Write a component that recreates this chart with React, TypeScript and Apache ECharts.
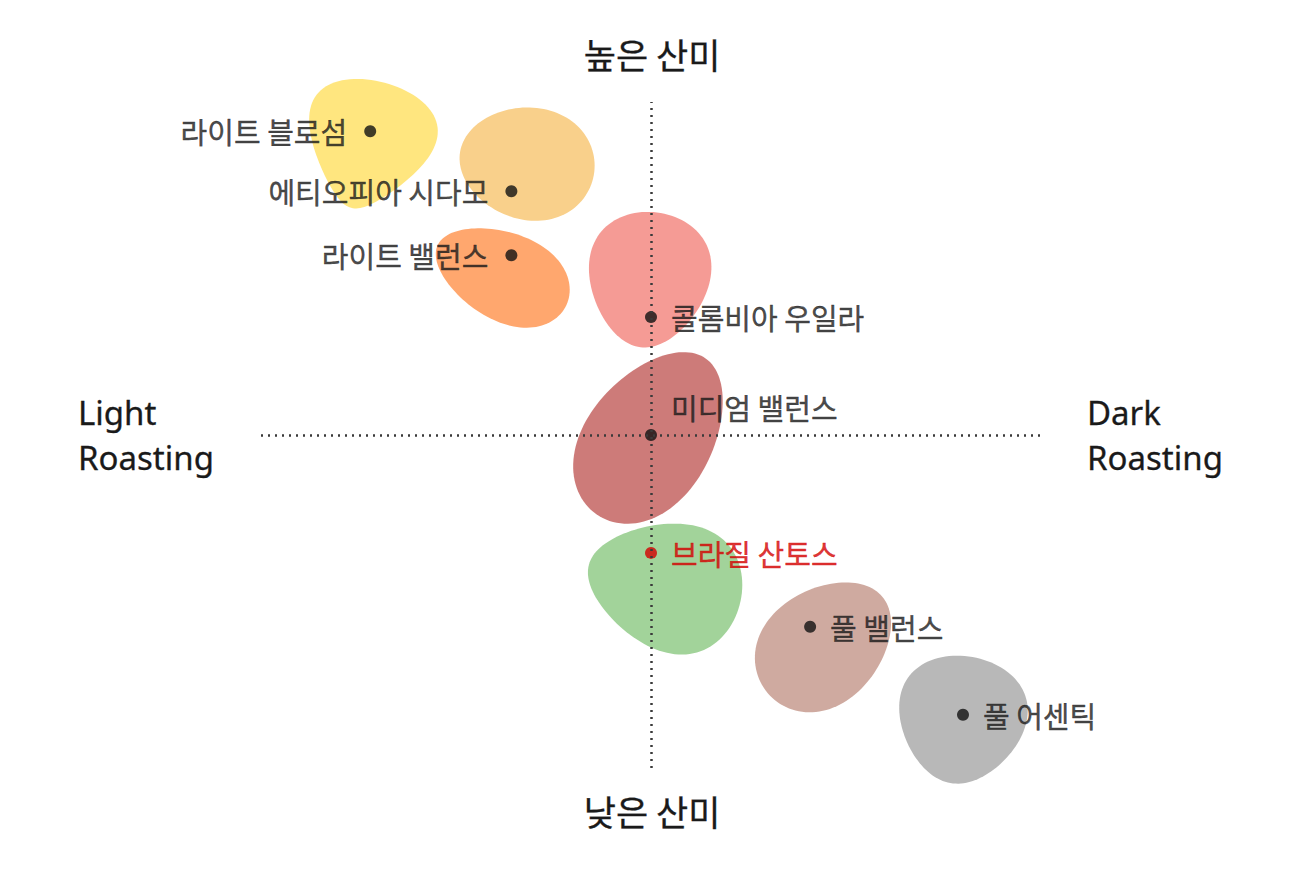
import React, { useEffect, useRef } from "react";
import * as echarts from "echarts";

// Coffee points: roasting (x, light -> dark) and acidity (y, low -> high)
const names = [
  "라이트 블로섬",
  "에티오피아 시다모",
  "라이트 밸런스",
  "콜롬비아 우일라",
  "미디엄 밸런스",
  "브라질 산토스",
  "풀 밸런스",
  "풀 어센틱",
];
const roast = [-3.6, -1.79, -1.79, 0, 0, 0, 2.04, 4.0];
const acidity = [4.56, 3.66, 2.7, 1.77, 0, -1.77, -2.88, -4.2];
const labelSide = ["left", "left", "left", "right", "above", "right", "right", "right"];
const highlighted = "브라질 산토스";

// Blob (flavour area) centres, in the same data units
const blobX = [-3.63, -1.59, -1.91, -0.03, 0, 0.17, 2.23, 3.98];
const blobY = [4.35, 4.08, 2.4, 2.33, -0.02, -2.25, -3.15, -4.28];
// Egg-shaped areas: half length / half width (x-axis units), direction of the narrow end (deg), egg factor
const blobA = [0.83, 0.87, 0.91, 0.87, 1.22, 1.0, 0.96, 0.82];
const blobB = [0.77, 0.72, 0.56, 0.77, 0.8, 0.81, 0.73, 0.81];
const blobAngle = [105, 190, 205, 97, -55, 195, -40, 100];
const blobEgg = [0.45, 0.08, 0.15, 0.2, 0.12, 0.25, 0.12, 0.2];
const blobColors = [
  "#FFE67F",
  "#F9D08B",
  "#FFA76E",
  "#F59B95",
  "#CD7B79",
  "#A2D39A",
  "#CFAAA0",
  "#B8B8B8",
];

const KR = "'Noto Sans CJK KR', 'Noto Sans', sans-serif";
const EN = "'Noto Sans', 'Noto Sans CJK KR', sans-serif";
const INK = "#1a1a1a";
const RED = "#D40000";

function eggPoints(cx: number, cy: number, a: number, b: number, deg: number, e: number) {
  const th = (deg * Math.PI) / 180;
  const ct = Math.cos(th);
  const st = Math.sin(th);
  const pts: number[][] = [];
  const n = 120;
  for (let i = 0; i < n; i++) {
    const t = (i / n) * 2 * Math.PI;
    const lx = a * Math.cos(t);
    const ly = b * Math.sin(t) * (1 - e * Math.cos(t));
    pts.push([cx + lx * ct - ly * st, cy + lx * st + ly * ct]);
  }
  return pts;
}

function axisText(text: string, x: number, y: number, font: string, align: string) {
  return {
    type: "text",
    x,
    y,
    style: {
      text,
      font,
      fill: INK,
      stroke: INK,
      lineWidth: 0.3,
      textAlign: align,
      textVerticalAlign: "middle",
    },
  };
}

export default function App() {
  const ref = useRef<HTMLDivElement>(null);
  useEffect(() => {
    document.body.style.margin = "0";
    const chart = echarts.init(ref.current!, null, { renderer: "svg" });

    const pointData = names.map((n, i) => {
      const isHi = n === highlighted;
      const side = labelSide[i];
      const col = isHi ? RED : INK;
      return {
        name: n,
        value: [roast[i], acidity[i]],
        itemStyle: { color: isHi ? RED : "#111111" },
        label: {
          show: true,
          position: side === "above" ? "right" : side,
          distance: side === "left" ? 17 : 14,
          offset: side === "above" ? [0, -28] : [0, 0],
          color: col,
          textBorderColor: col,
          textBorderWidth: 0.4,
        },
      };
    });

    chart.setOption({
      animation: false,
      grid: { left: 261, top: 102, width: 780, height: 666 },
      xAxis: { type: "value", min: -5, max: 5, show: false },
      yAxis: { type: "value", min: -5, max: 5, show: false },
      series: [
        {
          type: "custom",
          z: 1,
          silent: true,
          data: blobX.map((x, i) => [x, blobY[i]]),
          renderItem: (params: any, api: any) => {
            const i = params.dataIndex;
            const c = api.coord([api.value(0), api.value(1)]);
            const unit = api.size([1, 0])[0];
            const pts = eggPoints(c[0], c[1], blobA[i] * unit, blobB[i] * unit, blobAngle[i], blobEgg[i]);
            return {
              type: "polygon",
              shape: { points: pts },
              style: { fill: blobColors[i] },
            };
          },
        },
        {
          type: "scatter",
          z: 2,
          silent: true,
          symbolSize: 0,
          data: [[0, 0]],
          markLine: {
            silent: true,
            symbol: ["none", "none"],
            label: { show: false },
            lineStyle: { type: [2, 5], color: "#3a3a3a", width: 2.5 },
            data: [{ xAxis: 0 }, { yAxis: 0 }],
          },
        },
        {
          type: "scatter",
          z: 3,
          symbolSize: 12,
          data: pointData,
          label: {
            show: true,
            formatter: "{b}",
            fontFamily: KR,
            fontSize: 29,
          },
        },
      ],
      graphic: [
        axisText("높은 산미", 652, 53, `35px ${KR}`, "center"),
        axisText("낮은 산미", 652, 810, `35px ${KR}`, "center"),
        axisText("Light", 78, 412, `33px ${EN}`, "left"),
        axisText("Roasting", 78, 457, `33px ${EN}`, "left"),
        axisText("Dark", 1087, 412, `33px ${EN}`, "left"),
        axisText("Roasting", 1087, 457, `33px ${EN}`, "left"),
      ],
    });
    return () => chart.dispose();
  }, []);
  return <div ref={ref} style={{ width: 1312, height: 874 }} />;
}
